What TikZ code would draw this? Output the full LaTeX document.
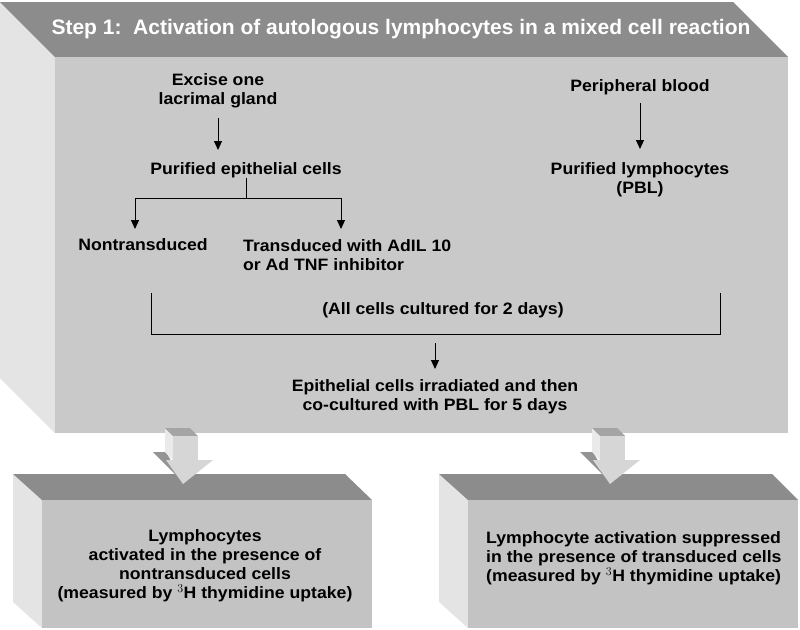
\documentclass[tikz,border=0pt]{standalone}
\usepackage{fontspec}
\setmainfont{Liberation Sans}
\newfontfamily\bodyfont[FakeStretch=1.07]{Liberation Sans}
\usetikzlibrary{arrows.meta}
\definecolor{topgray}{HTML}{8C8C8C}
\definecolor{frontgray}{HTML}{C9C9C9}
\definecolor{sidegray}{HTML}{E4E4E4}
\definecolor{lowfront}{HTML}{C3C3C3}
\definecolor{arrtop}{HTML}{A4A4A4}
\definecolor{arrfront}{HTML}{D6D6D6}
\definecolor{arrside}{HTML}{EAEAEA}
\definecolor{arrwing}{HTML}{949494}
\begin{document}
\begin{tikzpicture}[x=1pt,y=-1pt,
  txt/.style={font=\bodyfont\bfseries\fontsize{16.5}{19}\selectfont, align=center, text=black, inner sep=0pt},
  ltxt/.style={txt, align=left},
  arr/.style={-{Triangle[length=9pt,width=8pt]}, line width=1pt},
  ln/.style={line width=1pt},
  blockarrow/.pic={
    \fill[arrwing] (-12,24) -- (1,24) -- (18,54) -- cycle;
    \fill[arrfront] (1,32) -- (48,32) -- (18,56) -- cycle;
    \fill[arrside] (0,0) -- (8,8) -- (8,32) -- (0,24) -- cycle;
    \fill[arrtop] (0,0) -- (25,0) -- (33,8) -- (8,8) -- cycle;
    \fill[arrfront] (8,8) rectangle (33,34);
  }]
\useasboundingbox (0,0) rectangle (800,629);
\fill[white] (0,0) rectangle (800,629);
% big box
\fill[sidegray] (0,2) -- (55,57) -- (55,433) -- (0,378) -- cycle;
\fill[topgray] (0,2) -- (733,2) -- (788,57) -- (55,57) -- cycle;
\fill[frontgray] (55,57) rectangle (788,433);
% lower boxes
\fill[sidegray] (13,474) -- (42,500) -- (42,628) -- (13,602) -- cycle;
\fill[topgray] (13,474) -- (345,474) -- (372,500) -- (42,500) -- cycle;
\fill[lowfront] (42,500) rectangle (372,628);
\fill[sidegray] (439,474) -- (468,500) -- (468,628) -- (439,602) -- cycle;
\fill[topgray] (439,474) -- (772,474) -- (798,500) -- (468,500) -- cycle;
\fill[lowfront] (468,500) rectangle (798,628);
% block arrows
\pic at (165,428) {blockarrow};
\pic at (592,428) {blockarrow};
% title
\node[font=\bfseries\fontsize{21}{24}\selectfont, text=white, inner sep=0pt] (title) at (401,29) {Step 1:\ \ Activation of autologous lymphocytes in a mixed cell reaction};
% texts
\node[txt] (excise) at (218,91) {Excise one\\lacrimal gland};
\node[txt] (purepi) at (246,170) {Purified epithelial cells};
\node[txt] (nontr) at (143,245) {Nontransduced};
\node[ltxt, anchor=west] (trans) at (243,255) {Transduced with AdIL 10\\or Ad TNF inhibitor};
\node[txt] (blood) at (640,87) {Peripheral blood};
\node[txt] (purlym) at (640,180) {Purified lymphocytes\\(PBL)};
\node[txt] (cult) at (443,310) {(All cells cultured for 2 days)};
\node[txt] (irr) at (435,397) {Epithelial cells irradiated and then\\co-cultured with PBL for 5 days};
\node[txt] (res1) at (205,566) {Lymphocytes\\activated in the presence of\\nontransduced cells\\(measured by $^{3}$H thymidine uptake)};
\node[ltxt, anchor=west] (res2) at (486,558) {Lymphocyte activation suppressed\\in the presence of transduced cells\\(measured by $^{3}$H thymidine uptake)};
% connectors
\coordinate (exA) at (218,118);
\coordinate (exB) at (218,150);
\coordinate (pbA) at (640,103);
\coordinate (pbB) at (640,149);
\coordinate (split) at (246,198);
\coordinate (nonT) at (135,229);
\coordinate (trT) at (341,229);
\coordinate (bl) at (151,293);
\coordinate (br) at (720,293);
\coordinate (bl2) at (151,334);
\coordinate (br2) at (720,334);
\coordinate (mid) at (435,334);
\coordinate (midT) at (435,369);
\draw[arr] (exA) -- (exB);
\draw[ln] (purepi.south -| split) -- (split);
\draw[arr] (split) -| (nonT);
\draw[arr] (split) -| (trT);
\draw[arr] (pbA) -- (pbB);
\draw[ln] (bl) -- (bl2) -- (br2) -- (br);
\draw[arr] ([yshift=-9pt]mid) -- (midT);
\end{tikzpicture}
\end{document}
